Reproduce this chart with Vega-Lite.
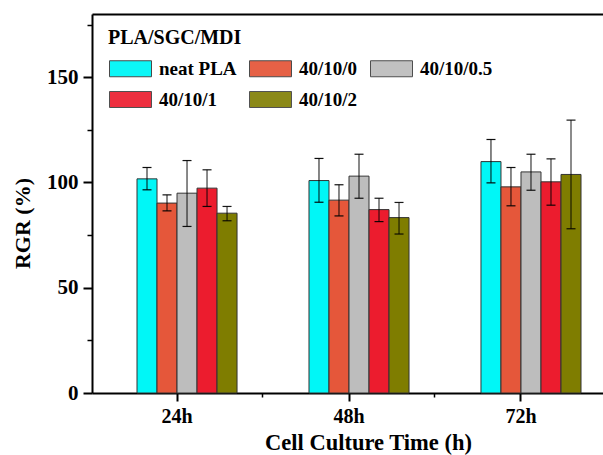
{
  "$schema": "https://vega.github.io/schema/vega-lite/v6.json",
  "autosize": {"type": "none"},
  "padding": {"left": 92, "top": 14, "right": 0, "bottom": 62},
  "width": 511,
  "height": 379,
  "background": "white",
  "config": {
    "view": {"stroke": null},
    "font": "Liberation Serif",
    "axis": {"grid": false, "domainColor": "black", "tickColor": "black", "labelColor": "black", "titleColor": "black", "labelFont": "Liberation Serif", "titleFont": "Liberation Serif", "labelFontWeight": "bold", "titleFontWeight": "bold"}
  },
  "data": {
    "values": [
      {"t": "24h", "series": "neat PLA", "value": 101.7, "lo": 96.5, "hi": 107.1},
      {"t": "24h", "series": "40/10/0", "value": 90.2, "lo": 86.5, "hi": 94.1},
      {"t": "24h", "series": "40/10/0.5", "value": 94.9, "lo": 79.1, "hi": 110.4},
      {"t": "24h", "series": "40/10/1", "value": 97.3, "lo": 88.6, "hi": 106.0},
      {"t": "24h", "series": "40/10/2", "value": 85.4, "lo": 81.8, "hi": 88.6},
      {"t": "48h", "series": "neat PLA", "value": 100.9, "lo": 90.6, "hi": 111.4},
      {"t": "48h", "series": "40/10/0", "value": 91.6, "lo": 84.1, "hi": 98.9},
      {"t": "48h", "series": "40/10/0.5", "value": 103.0, "lo": 92.5, "hi": 113.4},
      {"t": "48h", "series": "40/10/1", "value": 87.1, "lo": 81.4, "hi": 92.5},
      {"t": "48h", "series": "40/10/2", "value": 83.3, "lo": 75.5, "hi": 90.5},
      {"t": "72h", "series": "neat PLA", "value": 109.9, "lo": 99.8, "hi": 120.4},
      {"t": "72h", "series": "40/10/0", "value": 97.9, "lo": 88.9, "hi": 107.1},
      {"t": "72h", "series": "40/10/0.5", "value": 105.0, "lo": 96.3, "hi": 113.4},
      {"t": "72h", "series": "40/10/1", "value": 100.3, "lo": 89.2, "hi": 111.2},
      {"t": "72h", "series": "40/10/2", "value": 103.8, "lo": 78.0, "hi": 129.6}
    ]
  },
  "encoding": {
    "x": {"field": "t", "type": "nominal", "sort": ["24h", "48h", "72h"],
      "scale": {"paddingInner": 0.302, "paddingOuter": 0.1366, "align": 0.532}},
    "xOffset": {"field": "series", "type": "nominal",
      "scale": {"domain": ["_", "neat PLA", "40/10/0", "40/10/0.5", "40/10/1", "40/10/2"], "paddingInner": 0, "paddingOuter": 0}}
  },
  "layer": [
    {
      "mark": {"type": "bar", "stroke": "#333333", "strokeWidth": 1},
      "encoding": {
        "x": {"field": "t", "type": "nominal", "sort": ["24h", "48h", "72h"],
          "axis": {"orient": "bottom", "title": "Cell Culture Time (h)", "labelAngle": 0, "labelFontSize": 20, "titleFontSize": 22.5, "tickSize": 8, "tickWidth": 2, "domainWidth": 2, "labelPadding": 5, "titlePadding": 5, "titleX": 276}},
        "y": {"field": "value", "type": "quantitative", "scale": {"domain": [0, 180], "nice": false, "zero": true},
          "axis": {"orient": "left", "title": "RGR (%)", "values": [0, 50, 100, 150], "labelFontSize": 21, "titleFontSize": 22, "tickSize": 9, "tickWidth": 2, "domainWidth": 2, "labelPadding": 5, "titlePadding": 12, "titleY": 209}},
        "color": {"field": "series", "type": "nominal",
          "scale": {"domain": ["neat PLA", "40/10/0", "40/10/0.5", "40/10/1", "40/10/2"], "range": ["#00F7F7", "#E5573A", "#BDBDBD", "#EC1C2E", "#7F7D00"]},
          "legend": {"orient": "none", "legendX": 16, "legendY": 14, "columns": 3, "direction": "horizontal", "title": "PLA/SGC/MDI", "titleFont": "Liberation Serif", "titleFontSize": 20, "titleFontWeight": "bold", "titleColor": "black", "labelFont": "Liberation Serif", "labelFontSize": 19, "labelFontWeight": "bold", "labelColor": "black", "symbolType": "M-1,-1H4.25V1H-1Z", "symbolSize": 256, "symbolStrokeColor": "#404040", "symbolStrokeWidth": 1, "symbolOpacity": 1, "columnPadding": 10, "rowPadding": 10, "labelOffset": 32, "titlePadding": 11, "labelLimit": 300, "padding": 0}}
      }
    },
    {
      "mark": {"type": "rule", "color": "black", "strokeWidth": 1},
      "encoding": {
        "x": {"field": "t", "type": "nominal", "sort": ["24h", "48h", "72h"],
          "axis": {"orient": "bottom", "title": null, "labels": false, "domain": false, "values": ["24h", "48h"], "bandPosition": 1.214, "tickSize": 4, "tickWidth": 1.5}},
        "y": {"field": "lo", "type": "quantitative",
          "axis": {"orient": "left", "title": null, "labels": false, "domain": false, "values": [25, 75, 125, 175], "tickSize": 5, "tickWidth": 1.5}},
        "y2": {"field": "hi"},
        "opacity": {"field": "series", "type": "nominal", "scale": {"domain": ["neat PLA", "40/10/0", "40/10/0.5", "40/10/1", "40/10/2"], "range": [0.95, 0.9, 0.45, 0.45, 0.4]}, "legend": null}
      }
    },
    {
      "mark": {"type": "tick", "color": "black", "thickness": 1.2, "size": 9},
      "encoding": {
        "x": {"field": "t", "type": "nominal", "sort": ["24h", "48h", "72h"],
          "axis": {"orient": "top", "title": null, "labels": false, "ticks": false, "domain": true, "domainWidth": 2}},
        "y": {"field": "lo", "type": "quantitative", "axis": null},
        "opacity": {"field": "series", "type": "nominal", "legend": null}
      }
    },
    {
      "mark": {"type": "tick", "color": "black", "thickness": 1.2, "size": 9},
      "encoding": {
        "x": {"field": "t", "type": "nominal", "sort": ["24h", "48h", "72h"], "axis": null},
        "y": {"field": "hi", "type": "quantitative", "axis": null},
        "opacity": {"field": "series", "type": "nominal", "legend": null}
      }
    }
  ],
  "resolve": {"axis": {"x": "independent", "y": "independent"}}
}
